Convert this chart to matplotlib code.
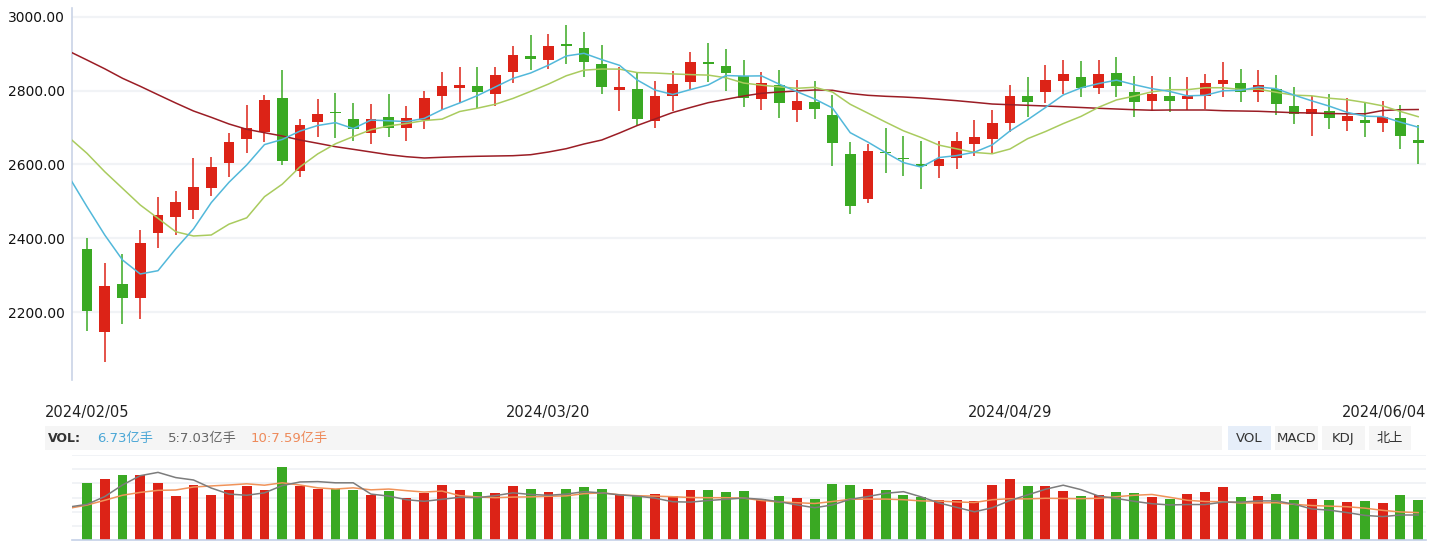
import matplotlib
matplotlib.use('Agg')
import matplotlib.pyplot as plt
import numpy as np
from matplotlib.patches import Rectangle

# ---------------- data ----------------
dates_labels = ["2024/02/05", "2024/03/20", "2024/04/29", "2024/06/04"]
label_idx = [0, 26, 52, 75]

opens = [2369.4, 2145.9, 2274.8, 2237.8, 2413.5, 2456.8, 2475.7, 2535.1, 2602.7, 2667.6,
         2686.5, 2780.2, 2581.1, 2713.5, 2740.5, 2723.4, 2683.8, 2728.8, 2697.3, 2720.7,
         2783.8, 2808.1, 2812.6, 2789.2, 2851.4, 2893.7, 2882.9, 2926.1, 2915.3, 2872.1,
         2802.7, 2804.5, 2716.2, 2783.8, 2824.3, 2877.5, 2866.7, 2839.6, 2775.7, 2814.4,
         2746.0, 2769.4, 2734.2, 2628.8, 2505.4, 2634.2, 2618.0, 2601.8, 2594.6, 2616.2,
         2654.1, 2667.6, 2710.8, 2785.6, 2797.3, 2827.0, 2836.9, 2808.1, 2847.7, 2796.4,
         2770.3, 2785.6, 2775.7, 2783.8, 2818.9, 2820.7, 2797.3, 2804.5, 2758.6, 2735.1,
         2745.0, 2716.2, 2720.7, 2710.8, 2726.1, 2666.7]
highs = [2401.8, 2331.5, 2355.9, 2423.4, 2512.6, 2528.8, 2618.0, 2620.7, 2685.6, 2761.3,
         2788.3, 2855.9, 2723.4, 2777.5, 2793.7, 2765.8, 2764.0, 2791.0, 2758.6, 2799.1,
         2850.5, 2864.0, 2864.0, 2864.0, 2920.7, 2950.5, 2953.2, 2977.5, 2958.6, 2923.4,
         2864.0, 2847.7, 2826.1, 2853.2, 2904.5, 2928.8, 2912.6, 2882.9, 2850.5, 2855.9,
         2828.8, 2826.1, 2788.3, 2661.3, 2655.9, 2699.1, 2677.5, 2664.0, 2664.0, 2688.3,
         2720.7, 2747.7, 2815.3, 2836.9, 2869.4, 2882.9, 2880.2, 2882.9, 2891.0, 2839.6,
         2839.6, 2836.9, 2836.9, 2845.0, 2877.5, 2858.6, 2855.9, 2842.3, 2809.9, 2783.8,
         2791.0, 2780.2, 2769.4, 2772.1, 2761.3, 2707.2]
lows = [2148.6, 2064.9, 2166.7, 2180.2, 2373.0, 2408.1, 2451.4, 2513.5, 2566.7, 2629.7,
        2659.5, 2597.3, 2564.9, 2673.0, 2670.3, 2662.2, 2654.1, 2673.0, 2662.2, 2694.6,
        2747.7, 2766.7, 2752.3, 2758.6, 2820.7, 2855.9, 2858.6, 2873.0, 2837.8, 2789.2,
        2745.0, 2705.4, 2697.3, 2745.0, 2803.6, 2824.3, 2800.0, 2754.1, 2746.0, 2724.3,
        2713.5, 2721.6, 2594.6, 2464.9, 2494.6, 2575.7, 2567.6, 2532.4, 2562.2, 2586.5,
        2621.6, 2631.5, 2686.5, 2727.0, 2766.7, 2791.0, 2781.1, 2789.2, 2781.1, 2727.0,
        2743.2, 2740.5, 2746.0, 2748.6, 2781.1, 2767.6, 2767.6, 2732.4, 2708.1, 2675.7,
        2694.6, 2689.2, 2673.0, 2686.5, 2640.5, 2600.0]
closes = [2202.7, 2269.4, 2237.8, 2385.6, 2464.0, 2499.1, 2538.7, 2593.7, 2661.3, 2699.1,
          2774.8, 2608.1, 2707.2, 2736.9, 2737.8, 2694.6, 2723.4, 2697.3, 2726.1, 2780.2,
          2812.6, 2815.3, 2797.3, 2842.3, 2896.4, 2886.5, 2920.7, 2921.6, 2878.4, 2810.8,
          2809.9, 2721.6, 2785.6, 2818.0, 2877.5, 2873.0, 2848.6, 2778.4, 2820.7, 2764.9,
          2772.1, 2748.6, 2656.8, 2486.5, 2636.9, 2629.7, 2613.5, 2596.4, 2615.3, 2664.0,
          2674.8, 2712.6, 2785.6, 2767.6, 2828.8, 2845.0, 2808.1, 2845.0, 2813.5, 2767.6,
          2791.0, 2770.3, 2785.6, 2820.7, 2828.8, 2797.3, 2815.3, 2762.2, 2735.1, 2750.5,
          2724.3, 2731.5, 2710.8, 2728.8, 2675.7, 2656.8]

# moving-average values read where the window reaches before the visible range
ma5_prev = 2565.0
ma5_head = [2485.3, 2408.6, 2340.9, 2303.0]
ma10_prev = 2672.0
ma10_head = [2629.8, 2580.0, 2535.0, 2489.9, 2453.8, 2417.5, 2405.9, 2408.6, 2438.0]
ma_long_prev = 2906.0
ma_long = [2882.6, 2858.8, 2833.1, 2811.4, 2788.6, 2766.1, 2744.5, 2727.4, 2709.3, 2694.9,
           2685.7, 2676.8, 2665.9, 2657.0, 2647.8, 2640.7, 2633.4, 2626.1, 2620.7, 2617.2,
           2619.1, 2620.7, 2621.8, 2622.6, 2623.4, 2626.1, 2633.4, 2642.4, 2655.1, 2665.9,
           2684.9, 2705.2, 2722.8, 2740.4, 2754.0, 2767.0, 2776.2, 2785.1, 2792.4, 2796.0,
           2798.7, 2801.4, 2800.6, 2791.9, 2787.0, 2784.3, 2782.4, 2779.7, 2776.2, 2772.4,
           2768.0, 2763.4, 2761.5, 2759.9, 2758.0, 2756.1, 2754.0, 2751.8, 2749.9, 2748.0,
           2746.6, 2747.2, 2747.2, 2747.2, 2745.3, 2744.5, 2743.7, 2741.8, 2739.9, 2739.1,
           2737.7, 2736.9, 2736.9, 2745.8, 2748.0, 2748.5]

volumes = [9.59, 10.27, 10.94, 10.94, 9.59, 7.41, 9.26, 7.57, 8.42, 9.09,
           8.42, 12.29, 9.09, 8.58, 8.58, 8.42, 7.57, 8.25, 7.07, 7.91,
           9.26, 8.42, 8.08, 7.91, 9.09, 8.58, 8.08, 8.58, 8.92, 8.58,
           7.74, 7.57, 7.74, 7.41, 8.42, 8.42, 8.08, 8.25, 6.90, 7.41,
           7.07, 6.90, 9.42, 9.26, 8.58, 8.42, 7.57, 7.24, 6.73, 6.73,
           6.56, 9.26, 10.27, 9.09, 9.09, 8.25, 7.41, 7.57, 8.08, 7.91,
           7.24, 6.90, 7.74, 8.08, 8.92, 7.24, 7.41, 7.74, 6.73, 6.90,
           6.73, 6.40, 6.56, 6.23, 7.57, 6.73]
vma5_prev = 7.37
vma5_head = [7.59, 8.24, 9.21, 9.99]
vma10_prev = 7.26
vma10_head = [7.53, 7.93, 8.35, 8.59, 8.76, 8.79, 9.04, 9.13, 9.21]

header_vol = "6.73亿手"
header_ma5 = "5:7.03亿手"
header_ma10 = "10:7.59亿手"
buttons = ["VOL", "MACD", "KDJ", "北上"]

# ---------------- helpers ----------------
def rolling(vals, n, head):
    vals = np.asarray(vals, float)
    out = []
    for i in range(len(vals)):
        if i < n - 1:
            out.append(head[i])
        else:
            out.append(vals[i - n + 1:i + 1].mean())
    return np.array(out)

ma5 = rolling(closes, 5, ma5_head)
ma10 = rolling(closes, 10, ma10_head)
vma5 = rolling(volumes, 5, vma5_head)
vma10 = rolling(volumes, 10, vma10_head)

RED = '#dc2317'
GREEN = '#3aa923'
C_MA5 = '#52b8da'
C_MA10 = '#a9cb5e'
C_LONG = '#9b1d25'
C_VMA5 = '#7c7c7c'
C_VMA10 = '#f0935a'
GRID = '#f1f3f6'

W, H = 1433, 542
fig = plt.figure(figsize=(W / 100, H / 100), dpi=100)
fig.patch.set_facecolor('white')
CJK = ['DejaVu Sans', 'Noto Sans CJK SC']

def rect(l, t, r, b):
    return [l / W, 1 - b / H, (r - l) / W, (b - t) / H]

n = len(closes)
x = np.arange(n)
xl = (-0.845, 75.44)
cols = [RED if c >= o else GREEN for o, c in zip(opens, closes)]

# ---------------- main price axes ----------------
ax = fig.add_axes(rect(72, 8, 1426, 380))
ax.set_xlim(*xl)
ax.set_ylim(2015.8, 3023.5)
for s in ['top', 'right', 'bottom']:
    ax.spines[s].set_visible(False)
ax.spines['left'].set_color('#c9d3e6')
ax.spines['left'].set_linewidth(1.2)
ax.set_yticks([2200, 2400, 2600, 2800, 3000])
ax.set_yticklabels([f"{v:.2f}" for v in [2200, 2400, 2600, 2800, 3000]],
                   fontsize=10, color='#111111', family=CJK)
ax.tick_params(axis='y', length=0, pad=5)
ax.set_xticks([])
for v in [2200, 2400, 2600, 2800, 3000]:
    ax.axhline(v, color=GRID, lw=1.6, zorder=0)

oarr = np.array(opens); carr = np.array(closes)
bottoms = np.minimum(oarr, carr)
heights = np.maximum(np.abs(carr - oarr), 3.5)
ax.vlines(x, lows, highs, colors=cols, lw=1.1, zorder=2)
ax.bar(x, heights, bottom=bottoms, width=0.6, color=cols, zorder=3, linewidth=0)

xx = np.arange(-1, n)
ax.plot(xx, np.r_[ma_long_prev, ma_long], color=C_LONG, lw=1.1, zorder=4)
ax.plot(xx, np.r_[ma10_prev, ma10], color=C_MA10, lw=1.1, zorder=4)
ax.plot(xx, np.r_[ma5_prev, ma5], color=C_MA5, lw=1.1, zorder=4)

# ---------------- volume axes ----------------
vax = fig.add_axes(rect(72, 455, 1426, 540))
vtop = 14.31
vax.set_xlim(*xl)
vax.set_ylim(0, vtop)
for s in ['top', 'right', 'left']:
    vax.spines[s].set_visible(False)
vax.spines['bottom'].set_color('#c5d1e8')
vax.spines['bottom'].set_linewidth(1.2)
vax.set_xticks([]); vax.set_yticks([])
for k in range(1, 7):
    vax.axhline(vtop * k / 6, color=GRID, lw=1.4, zorder=0)
vax.bar(x, volumes, width=0.56, color=cols, linewidth=0, zorder=2)

vax2 = vax.twinx()
vax2.set_xlim(*xl)
vax2.set_ylim(4.605, 11.72)
vax2.axis('off')
vax2.plot(xx, np.r_[vma10_prev, vma10], color=C_VMA10, lw=1.1, zorder=3)
vax2.plot(xx, np.r_[vma5_prev, vma5], color=C_VMA5, lw=1.1, zorder=3)

# ---------------- overlay (labels, header) ----------------
ov = fig.add_axes([0, 0, 1, 1], zorder=-1)
ov.set_xlim(0, W); ov.set_ylim(H, 0); ov.axis('off')

def xpix(i):
    return 87 + 17.75 * i

for lab, idx in zip(dates_labels, label_idx):
    if idx == n - 1:
        ov.text(1426, 413, lab, ha='right', va='center', fontsize=10.5, color='#222222', family=CJK)
    else:
        ov.text(xpix(idx), 413, lab, ha='center', va='center', fontsize=10.5, color='#222222', family=CJK)

ov.add_patch(Rectangle((45, 426), 1222 - 45, 24, facecolor='#f5f5f5', edgecolor='none'))
ov.text(48, 438.5, "VOL:", ha='left', va='center', fontsize=9, fontweight='bold', color='#333333', family=CJK)
ov.text(97, 438.5, header_vol, ha='left', va='center', fontsize=9.5, color='#4ba7d6', family=CJK)
ov.text(168, 438.5, header_ma5, ha='left', va='center', fontsize=9.5, color='#666666', family=CJK)
ov.text(251, 438.5, header_ma10, ha='left', va='center', fontsize=9.5, color='#ee8a5a', family=CJK)

bx = [(1228, 1271), (1275, 1318), (1322, 1365), (1369, 1411)]
for (l, r), b in zip(bx, buttons):
    fc = '#e6eef9' if b == 'VOL' else '#f5f5f5'
    ov.add_patch(Rectangle((l, 426), r - l, 24, facecolor=fc, edgecolor='none'))
    ov.text((l + r) / 2, 438.5, b, ha='center', va='center', fontsize=9.5, color='#333333', family=CJK)

fig.savefig('out.png', dpi=100, facecolor='white')
